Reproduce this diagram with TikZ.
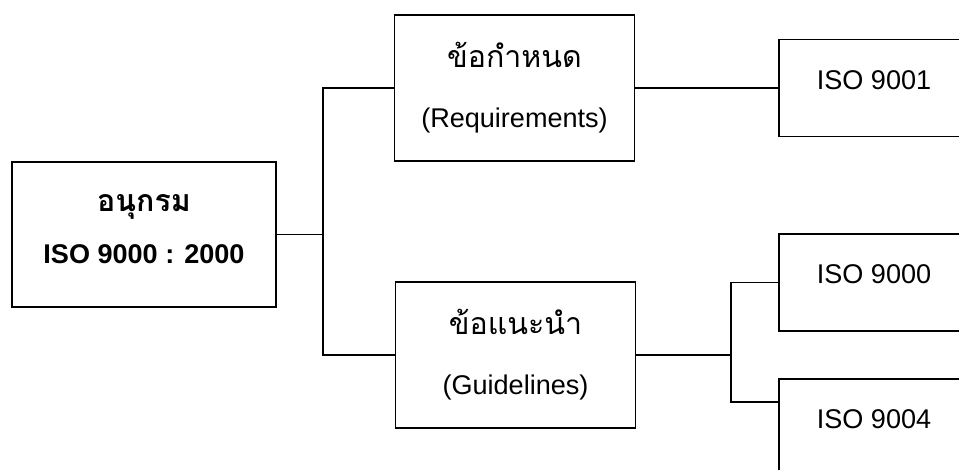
\documentclass[tikz,border=0pt]{standalone}
\usepackage{fontspec}
\setmainfont{Liberation Sans}
\newfontfamily\thaifont[Script=Thai,Scale=1.12]{Loma}
\tikzset{
    textbox/.style={draw, align=center, font=\fontsize{15.4}{34}\selectfont},
    rootbox/.style={textbox, minimum width=52.8mm, minimum height=29mm, text depth=2.2mm, font=\fontsize{15.4}{30}\selectfont\bfseries},
    groupbox/.style={textbox, minimum width=48mm, minimum height=29.2mm},
    stdbox/.style={textbox, minimum width=38mm, minimum height=19.4mm, text depth=3.2mm}
}
\begin{document}
\begin{tikzpicture}[x=0.2mm, y=-0.2mm, line width=1.1pt]
        % page frame
        \clip (0,0) rectangle (959,470);
        % series box
        \node[rootbox] (root) at (144,234.5) {{\thaifont อนุกรม}\\ISO 9000 : 2000};
        % requirements and guidelines
        \node[groupbox] (req)   at (514.5,88)  {{\thaifont ข้อกำหนด}\\(Requirements)};
        \node[groupbox] (guide) at (515.5,355) {{\thaifont ข้อแนะนำ}\\(Guidelines)};
        % standards
        \node[stdbox] (iso9001) at (874,88)    {ISO 9001};
        \node[stdbox] (iso9000) at (874,282.5) {ISO 9000};
        \node[stdbox] (iso9004) at (874,427.5) {ISO 9004};
        % branch points
        \coordinate (split1) at (323,234.5);
        \coordinate (split2) at (731,355);
        % connectors
        \draw (root.east) -- (split1);
        \draw (req.west) -| (split1) |- (guide.west);
        \draw (req.east) -- (iso9001.west);
        \draw (guide.east) -- (split2);
        \draw (iso9000.west) -| (split2) |- ([yshift=-4.8mm]iso9004.north west);
    \end{tikzpicture}
\end{document}
